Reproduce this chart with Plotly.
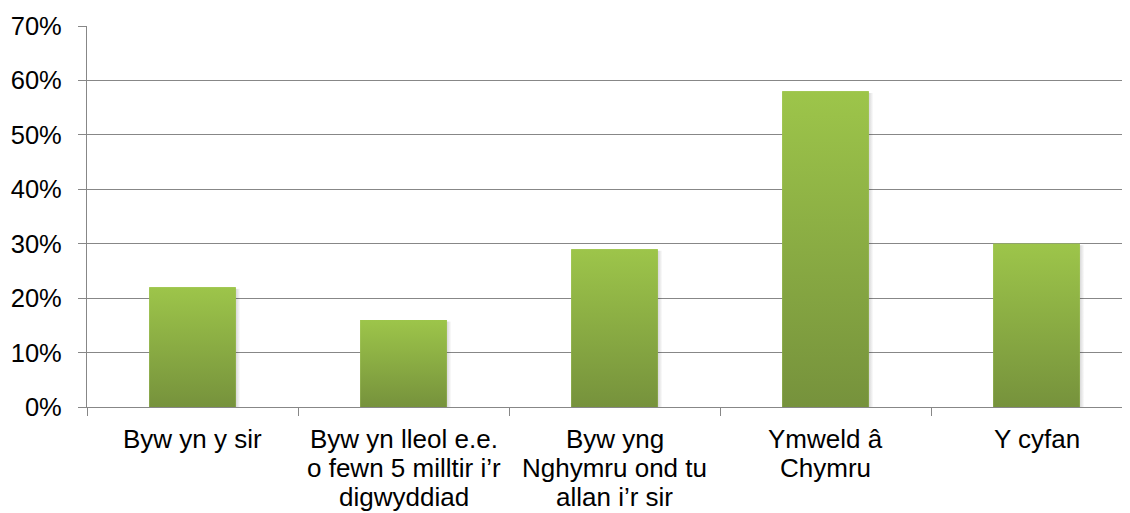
import plotly.graph_objects as go

categories = [
    "Byw yn y sir",
    "Byw yn lleol e.e.\no fewn 5 milltir i’r\ndigwyddiad",
    "Byw yng\nNghymru ond tu\nallan i’r sir",
    "Ymweld â\nChymru",
    "Y cyfan",
]
values = [22, 16, 29, 58, 30]
y_ticks = [0, 10, 20, 30, 40, 50, 60, 70]
y_tick_labels = [f"{v}%" for v in y_ticks]

BAR_W = 0.41
TOP_C = "#9DC54A"
BOT_C = "#76923C"
GRID = "#878787"
FONT = "Liberation Sans, Arial, sans-serif"

# the page body adds an 8px offset; compensate so the plot lands where the reference's does
W, H = 1122, 505
ML, MT, MB = 79, 18, 106

xs = list(range(len(categories)))

fig = go.Figure()
fig.add_trace(go.Bar(x=xs, y=values, width=BAR_W, marker=dict(color=TOP_C, line=dict(width=0)),
                     hoverinfo="y", showlegend=False))

# per-bar gradient + soft shadow, built from the same values
for i, v in zip(xs, values):
    l, r = i - BAR_W / 2, i + BAR_W / 2
    fig.add_trace(go.Scatter(
        x=[r, r + 0.022, r + 0.022, r, r], y=[0, 0, v - 0.3, v - 0.3, 0],
        mode="lines", line=dict(width=0), fill="toself",
        fillgradient=dict(type="horizontal", start=r, stop=r + 0.022,
                          colorscale=[[0, "rgba(0,0,0,0.16)"], [1, "rgba(0,0,0,0)"]]),
        hoverinfo="skip", showlegend=False))
    fig.add_trace(go.Scatter(
        x=[l, r, r, l, l], y=[0, 0, v, v, 0],
        mode="lines", line=dict(width=0), fill="toself",
        fillgradient=dict(type="vertical", colorscale=[[0, BOT_C], [1, TOP_C]]),
        hoverinfo="skip", showlegend=False))

# category labels, one text per line (tighter line spacing than Plotly's default)
annotations = []
for i, cat in zip(xs, categories):
    for k, line in enumerate(cat.split("\n")):
        annotations.append(dict(
            x=i, y=0, xref="x", yref="y", text=line, showarrow=False,
            xanchor="center", yanchor="middle", yshift=-32 - 29 * k,
            font=dict(family=FONT, size=26, color="#000000")))

fig.update_layout(
    width=W, height=H,
    margin=dict(l=ML, r=0, t=MT, b=MB),
    paper_bgcolor="white", plot_bgcolor="white",
    font=dict(family=FONT, size=26, color="#000000"),
    showlegend=False,
    annotations=annotations,
    xaxis=dict(
        range=[-0.5, -0.5 + (W - ML) / 211],
        tickmode="array", tickvals=xs, showticklabels=False,
        ticks="", showgrid=False, zeroline=False, automargin=False,
        showline=True, linecolor=GRID, linewidth=1.3,
        minor=dict(tickmode="array", tickvals=[-0.5, 0.5, 1.5, 2.5, 3.5, 4.5],
                   ticks="outside", ticklen=8, tickwidth=1.3, tickcolor=GRID, showgrid=False),
        fixedrange=True,
    ),
    yaxis=dict(
        range=[0, 70], tickmode="array", tickvals=y_ticks, ticktext=y_tick_labels,
        ticks="outside", ticklen=8, tickwidth=1.3, tickcolor=GRID,
        showgrid=True, gridcolor=GRID, gridwidth=1.3, zeroline=False, automargin=False,
        showline=True, linecolor=GRID, linewidth=1.3,
        tickfont=dict(family=FONT, size=25.5, color="#000000"),
        ticklabelstandoff=11,
        fixedrange=True,
    ),
)

fig.write_html("out.html")
